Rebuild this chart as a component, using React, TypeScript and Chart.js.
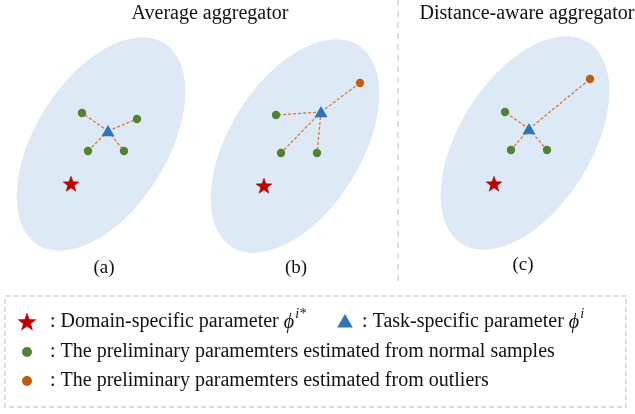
import React, { useEffect, useRef } from 'react';
import { Chart, registerables } from 'chart.js';
Chart.register(...registerables);

const CANVAS_W = 635;
const CANVAS_H = 414;

// ---- Ellipse regions (one per panel), in the chart's data units ----
const ellipseCenterX = [101, 295, 525];
const ellipseCenterY = [144, 146, 143];
const ellipseSemiMajor = [119, 119, 119];
const ellipseSemiMinor = [66, 66, 66];
const ellipseTiltDeg = [58, 58, 58];

// ---- Points per panel (a), (b), (c) ----
const taskX = [108, 321, 529];
const taskY = [131, 112, 129];
const domainX = [71, 264, 494];
const domainY = [184, 186, 184];
const normalX = [[82, 137, 88, 124], [276, 281, 317], [505, 511, 547]];
const normalY = [[113, 119, 151, 151], [115, 153, 153], [112, 150, 150]];
const outlierX: number[][] = [[], [360], [590]];
const outlierY: number[][] = [[], [83], [79]];

// ---- Texts ----
const titleTexts = ['Average aggregator', 'Distance-aware aggregator'];
const titleX = [210, 527];
const titleY = [14, 14];
const panelLabels = ['(a)', '(b)', '(c)'];
const panelLabelX = [104, 296, 523];
const panelLabelY = [268, 268, 265];

// ---- Legend ----
const legendStarPos = [27, 322];
const legendTrianglePos = [345, 321];
const legendNormalPos = [27, 352];
const legendOutlierPos = [27, 381];
const legendRow1Left = [': Domain-specific parameter ', 'ϕ', 'i*'];
const legendRow1Right = [': Task-specific parameter ', 'ϕ', 'i'];
const legendRow2 = ': The preliminary paramemters estimated from normal samples';
const legendRow3 = ': The preliminary paramemters estimated from outliers';
const legendTextX = [50, 362];
const legendTextY = [322, 352, 381];

const separatorX = 398;
const separatorY = [0, 286];
const legendBox = [5, 296, 626, 407];

const COLORS = {
  ellipse: '#DDE9F5',
  green: '#548235',
  orange: '#C55A11',
  blue: '#2E75B6',
  red: '#C00000',
  link: '#D9783C',
  sep: '#D4D4D4',
  box: '#CDD3E2',
};

const SERIF = '"Liberation Serif", "Times New Roman", serif';
const LEGEND_FONT = 20;

function makeStar(size: number): HTMLCanvasElement {
  const c = document.createElement('canvas');
  c.width = size;
  c.height = size;
  const g = c.getContext('2d')!;
  const cx = size / 2, cy = size / 2 + 0.5, R = size / 2 - 0.8, r = R * 0.41;
  g.beginPath();
  for (let i = 0; i < 10; i++) {
    const ang = -Math.PI / 2 + (i * Math.PI) / 5;
    const rad = i % 2 === 0 ? R : r;
    const x = cx + rad * Math.cos(ang);
    const y = cy + rad * Math.sin(ang);
    if (i === 0) g.moveTo(x, y);
    else g.lineTo(x, y);
  }
  g.closePath();
  g.fillStyle = COLORS.red;
  g.fill();
  g.strokeStyle = '#A50000';
  g.lineWidth = 0.6;
  g.stroke();
  return c;
}

function drawRich(ctx: CanvasRenderingContext2D, x: number, y: number, parts: string[]) {
  ctx.font = `${LEGEND_FONT}px ${SERIF}`;
  ctx.fillText(parts[0], x, y);
  let cx = x + ctx.measureText(parts[0]).width;
  ctx.font = `italic ${LEGEND_FONT}px ${SERIF}`;
  ctx.fillText(parts[1], cx, y + 1);
  cx += ctx.measureText(parts[1]).width + 1;
  ctx.font = `italic 14px ${SERIF}`;
  ctx.fillText(parts[2], cx, y - 8);
}

const diagramPlugin = {
  id: 'diagram',
  beforeDatasetsDraw(chart: any) {
    const { ctx, scales } = chart;
    const xs = scales.x, ys = scales.y;
    const k = xs.getPixelForValue(1) - xs.getPixelForValue(0);
    ctx.save();
    for (let i = 0; i < ellipseCenterX.length; i++) {
      ctx.beginPath();
      ctx.ellipse(
        xs.getPixelForValue(ellipseCenterX[i]),
        ys.getPixelForValue(ellipseCenterY[i]),
        ellipseSemiMajor[i] * k,
        ellipseSemiMinor[i] * k,
        (-ellipseTiltDeg[i] * Math.PI) / 180,
        0,
        Math.PI * 2
      );
      ctx.fillStyle = COLORS.ellipse;
      ctx.fill();
    }
    ctx.strokeStyle = COLORS.sep;
    ctx.lineWidth = 1.5;
    ctx.setLineDash([6, 5]);
    ctx.beginPath();
    ctx.moveTo(xs.getPixelForValue(separatorX), ys.getPixelForValue(separatorY[0]));
    ctx.lineTo(xs.getPixelForValue(separatorX), ys.getPixelForValue(separatorY[1]));
    ctx.stroke();
    ctx.strokeStyle = COLORS.box;
    ctx.setLineDash([5, 3]);
    const x0 = xs.getPixelForValue(legendBox[0]);
    const y0 = ys.getPixelForValue(legendBox[1]);
    const x1 = xs.getPixelForValue(legendBox[2]);
    const y1 = ys.getPixelForValue(legendBox[3]);
    ctx.strokeRect(x0, y0, x1 - x0, y1 - y0);
    ctx.restore();
  },
  afterDatasetsDraw(chart: any) {
    const { ctx, scales } = chart;
    const xs = scales.x, ys = scales.y;
    ctx.save();
    ctx.fillStyle = '#111';
    ctx.textBaseline = 'middle';
    ctx.textAlign = 'center';
    ctx.font = `20px ${SERIF}`;
    titleTexts.forEach((t, i) => {
      ctx.fillText(t, xs.getPixelForValue(titleX[i]), ys.getPixelForValue(titleY[i]));
    });
    ctx.font = `19px ${SERIF}`;
    panelLabels.forEach((t, i) => {
      ctx.fillText(t, xs.getPixelForValue(panelLabelX[i]), ys.getPixelForValue(panelLabelY[i]));
    });
    ctx.textAlign = 'left';
    drawRich(ctx, xs.getPixelForValue(legendTextX[0]), ys.getPixelForValue(legendTextY[0]), legendRow1Left);
    drawRich(ctx, xs.getPixelForValue(legendTextX[1]), ys.getPixelForValue(legendTextY[0]), legendRow1Right);
    ctx.font = `${LEGEND_FONT}px ${SERIF}`;
    ctx.fillText(legendRow2, xs.getPixelForValue(legendTextX[0]), ys.getPixelForValue(legendTextY[1]));
    ctx.fillText(legendRow3, xs.getPixelForValue(legendTextX[0]), ys.getPixelForValue(legendTextY[2]));
    ctx.restore();
  },
};

export default function App() {
  const ref = useRef<HTMLCanvasElement>(null);
  useEffect(() => {
    if (!ref.current) return;
    const star = makeStar(18);
    const legendStar = makeStar(20);
    const datasets: any[] = [];

    for (let p = 0; p < taskX.length; p++) {
      const ends = [
        ...normalX[p].map((x, j) => ({ x, y: normalY[p][j] })),
        ...outlierX[p].map((x, j) => ({ x, y: outlierY[p][j] })),
      ];
      ends.forEach((e) => {
        datasets.push({
          data: [{ x: taskX[p], y: taskY[p] }, e],
          showLine: true,
          borderColor: COLORS.link,
          borderWidth: 1.3,
          borderDash: [3, 2],
          pointRadius: 0,
          order: 5,
        });
      });
    }
    const normalPts = normalX.flatMap((row, p) => row.map((x, j) => ({ x, y: normalY[p][j] })));
    const outlierPts = outlierX.flatMap((row, p) => row.map((x, j) => ({ x, y: outlierY[p][j] })));
    const dot = (data: any[], color: string, r: number) => ({
      data,
      pointRadius: r,
      pointBackgroundColor: color,
      pointBorderColor: color,
      pointBorderWidth: 0,
      order: 1,
    });
    datasets.push(dot(normalPts, COLORS.green, 4.2));
    datasets.push(dot(outlierPts, COLORS.orange, 4.2));
    datasets.push(dot([{ x: legendNormalPos[0], y: legendNormalPos[1] }], COLORS.green, 5));
    datasets.push(dot([{ x: legendOutlierPos[0], y: legendOutlierPos[1] }], COLORS.orange, 5));
    const tri = (data: any[], r: number) => ({
      data,
      pointStyle: 'triangle',
      pointRadius: r,
      pointBackgroundColor: COLORS.blue,
      pointBorderColor: COLORS.blue,
      pointBorderWidth: 0,
      order: 0,
    });
    datasets.push(tri(taskX.map((x, i) => ({ x, y: taskY[i] + 1.5 })), 7.5));
    datasets.push(tri([{ x: legendTrianglePos[0], y: legendTrianglePos[1] + 2 }], 9));
    datasets.push({
      data: domainX.map((x, i) => ({ x, y: domainY[i] })),
      pointStyle: star,
      pointRadius: 8,
      order: 0,
    });
    datasets.push({
      data: [{ x: legendStarPos[0], y: legendStarPos[1] }],
      pointStyle: legendStar,
      pointRadius: 9,
      order: 0,
    });

    const chart = new Chart(ref.current, {
      type: 'scatter',
      data: { datasets },
      options: {
        animation: false,
        responsive: false,
        events: [],
        layout: { padding: 0, autoPadding: false },
        scales: {
          x: { type: 'linear', min: 0, max: CANVAS_W, display: false },
          y: { type: 'linear', min: 0, max: CANVAS_H, reverse: true, display: false },
        },
        plugins: { legend: { display: false }, tooltip: { enabled: false } },
      },
      plugins: [diagramPlugin],
    } as any);
    return () => chart.destroy();
  }, []);

  return (
    <div style={{ position: 'fixed', left: 0, top: 0, width: CANVAS_W, height: CANVAS_H, background: '#fff' }}>
      <canvas ref={ref} width={CANVAS_W} height={CANVAS_H} style={{ display: 'block' }} />
    </div>
  );
}
